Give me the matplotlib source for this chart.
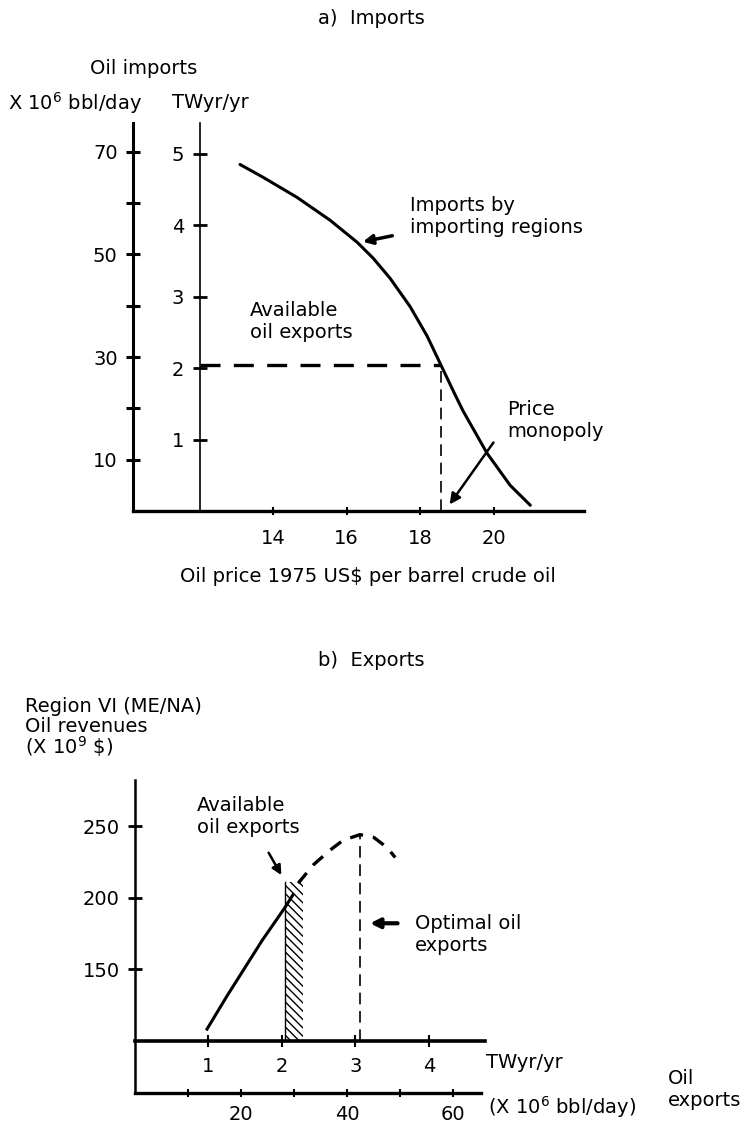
import numpy as np
import matplotlib.pyplot as plt

# a) Imports - demand curve of importing regions
price = [13.10, 13.73, 14.65, 15.55, 16.29, 16.72, 17.18, 17.73, 18.19, 18.57, 18.95, 19.17, 19.82, 20.45, 21.0]
imports_tw = [4.85, 4.67, 4.39, 4.07, 3.76, 3.54, 3.26, 2.86, 2.45, 2.04, 1.63, 1.40, 0.81, 0.36, 0.08]
avail_tw = 2.04        # available oil exports (TWyr/yr)
avail_price = 18.57    # price where available exports meet demand
price_ticks = [14, 16, 18, 20]
tw_ticks = [1, 2, 3, 4, 5]
bbl_ticks = [10, 20, 30, 40, 50, 60, 70]
bbl_labels = ['10', '', '30', '', '50', '', '70']

# b) Exports - revenues of region VI
rev_tw = [0.98, 1.25, 1.73, 2.04, 2.15]
revenue = [108, 131, 170, 193, 202]
rev_tw_dash = [2.22, 2.43, 2.65, 2.83, 3.06, 3.25, 3.43, 3.54]
revenue_dash = [210, 223, 233, 240, 244, 242, 235, 228]
hatch_tw = [2.04, 2.29]
hatch_top = 211
optimal_tw = 3.06
optimal_rev = 244
exp_tw_ticks = [1, 2, 3, 4]
rev_ticks = [150, 200, 250]
exp_bbl_ticks = [10, 20, 30, 40, 50, 60]
exp_bbl_labels = ['', '20', '', '40', '', '60']

W, H = 741, 1129
fig = plt.figure(figsize=(W / 100, H / 100), dpi=100)
plt.rcParams['mathtext.fontset'] = 'dejavusans'
fs = 14


def rect(l, t, r, b):
    return [l / W, 1 - b / H, (r - l) / W, (b - t) / H]


def ftext(x, y, s, **kw):
    kw.setdefault('fontsize', fs)
    kw.setdefault('va', 'center')
    fig.text(x / W, 1 - y / H, s, **kw)


# ---------------- a) Imports ----------------
ax_bbl = fig.add_axes(rect(133, 123, 584, 511))
ax_bbl.set_ylim(0, 75.6)
ax_bbl.set_xticks([])
for s in ['top', 'right', 'bottom']:
    ax_bbl.spines[s].set_visible(False)
ax_bbl.spines['left'].set_linewidth(2.2)
ax_bbl.set_yticks(bbl_ticks)
ax_bbl.set_yticklabels(bbl_labels)
ax_bbl.tick_params(axis='y', direction='inout', length=10, width=2.2, labelsize=fs, pad=6)
ax_bbl.patch.set_visible(False)

ax = fig.add_axes(rect(133, 123, 584, 511))
ax.patch.set_visible(False)
ax.set_xlim(10.19, 22.46)
ax.set_ylim(0, 5.43)
ax.spines['top'].set_visible(False)
ax.spines['right'].set_visible(False)
ax.spines['left'].set_position(('data', 12))
ax.spines['left'].set_linewidth(1.2)
ax.spines['bottom'].set_linewidth(2.4)
ax.set_xticks(price_ticks)
ax.set_yticks(tw_ticks)
ax.tick_params(axis='y', direction='inout', length=10, width=2, labelsize=fs, pad=6)
ax.tick_params(axis='x', direction='inout', length=6, width=1.5, labelsize=fs, pad=10)

ax.plot(price, imports_tw, color='black', lw=2.2, solid_capstyle='round', solid_joinstyle='round')
ax.plot([12, avail_price], [avail_tw, avail_tw], color='black', lw=2.4, dashes=(6, 4))
ax.plot([avail_price, avail_price], [0, avail_tw], color='black', lw=1.2, dashes=(7, 4))

ax.text(13.37, 2.65, 'Available\noil exports', fontsize=fs, va='center', ha='left', linespacing=1.2)
ax.text(17.73, 4.12, 'Imports by\nimporting regions', fontsize=fs, va='center', ha='left', linespacing=1.2)
ax.text(20.37, 1.27, 'Price\nmonopoly', fontsize=fs, va='center', ha='left', linespacing=1.2)
ax.annotate('', xy=(16.37, 3.76), xytext=(17.32, 3.86),
            arrowprops=dict(arrowstyle='-|>', lw=2.5, color='black', mutation_scale=14))
ax.annotate('', xy=(18.76, 0.06), xytext=(20.04, 0.99),
            arrowprops=dict(arrowstyle='-|>', lw=1.8, color='black', mutation_scale=16))

ftext(371, 18, 'a)  Imports', ha='center')
ftext(90, 68, 'Oil imports', ha='left')
ftext(8, 103, r'X 10$^6$ bbl/day', ha='left')
ftext(172, 103, 'TWyr/yr', ha='left')
ftext(368, 577, r'Oil price 1975 US\$ per barrel crude oil', ha='center')

# ---------------- b) Exports ----------------
axb = fig.add_axes(rect(135, 780, 485, 1093))
axb.patch.set_visible(False)
axb.set_xlim(0, 4.762)
axb.set_ylim(63.3, 282.2)
axb.spines['top'].set_visible(False)
axb.spines['right'].set_visible(False)
axb.spines['left'].set_linewidth(1.8)
axb.spines['bottom'].set_position(('data', 100))
axb.spines['bottom'].set_linewidth(2.6)
axb.set_xticks(exp_tw_ticks)
axb.set_yticks(rev_ticks)
axb.tick_params(axis='y', direction='inout', length=10, width=2, labelsize=fs, pad=6)
axb.tick_params(axis='x', direction='inout', length=8, width=1.5, labelsize=fs, pad=8)

axb.bar(hatch_tw[0], hatch_top - 100, bottom=100, width=hatch_tw[1] - hatch_tw[0],
        align='edge', fill=False, hatch='\\\\\\\\', lw=0, edgecolor='black')
axb.plot([hatch_tw[0], hatch_tw[0]], [100, hatch_top], color='black', lw=1)
axb.plot(rev_tw, revenue, color='black', lw=2.2, solid_joinstyle='round')
axb.plot(rev_tw_dash, revenue_dash, color='black', lw=2.4, dashes=(4, 3))
axb.plot([optimal_tw, optimal_tw], [100, optimal_rev], color='black', lw=1.2, dashes=(7, 4))

axb.text(0.84, 257, 'Available\noil exports', fontsize=fs, va='center', ha='left', linespacing=1.2)
axb.text(3.81, 174, 'Optimal oil\nexports', fontsize=fs, va='center', ha='left', linespacing=1.2)
axb.annotate('', xy=(2.01, 214), xytext=(1.80, 233),
             arrowprops=dict(arrowstyle='-|>', lw=1.8, color='black', mutation_scale=14))
axb.annotate('', xy=(3.16, 182), xytext=(3.61, 182),
             arrowprops=dict(arrowstyle='-|>', lw=3, color='black', mutation_scale=14))

axb2 = axb.twiny()
axb2.set_xlim(0, 66.0)
for s in ['top', 'right', 'left']:
    axb2.spines[s].set_visible(False)
axb2.xaxis.set_ticks_position('bottom')
axb2.xaxis.set_label_position('bottom')
axb2.spines['bottom'].set_position(('axes', 0))
axb2.spines['bottom'].set_linewidth(2.4)
axb2.spines['bottom'].set_bounds(0, 65.3)
axb2.set_xticks(exp_bbl_ticks)
axb2.set_xticklabels(exp_bbl_labels)
axb2.tick_params(axis='x', direction='inout', length=6, width=1.5, labelsize=fs, pad=6)

ftext(371, 660, 'b)  Exports', ha='center')
ftext(25, 706, 'Region VI (ME/NA)', ha='left')
ftext(25, 726, 'Oil revenues', ha='left')
ftext(25, 747, r'(X 10$^9$ \$)', ha='left')
ftext(486, 1062, 'TWyr/yr', ha='left')
ftext(488, 1107, r'(X 10$^6$ bbl/day)', ha='left')
ftext(668, 1090, 'Oil\nexports', ha='left', linespacing=1.2)

fig.savefig('out.png', dpi=100)
